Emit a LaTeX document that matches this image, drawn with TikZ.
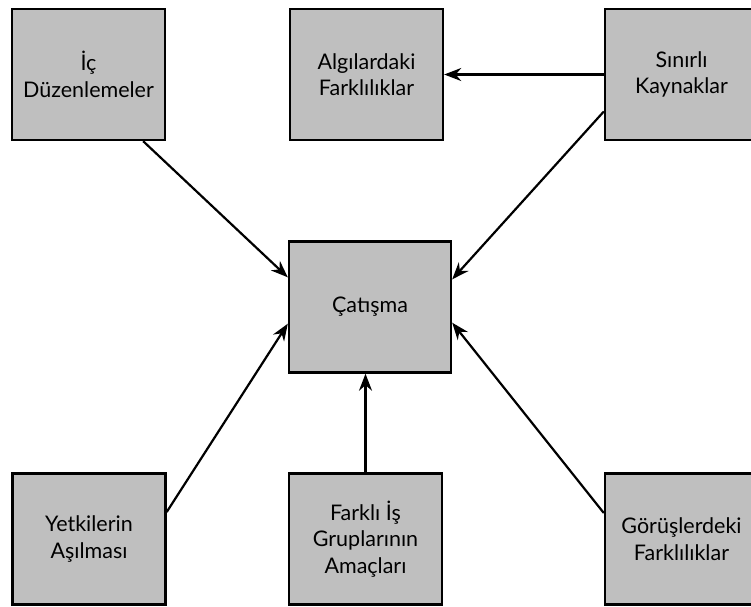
\documentclass[tikz,border=0pt]{standalone}
\usepackage{fontspec}
\setmainfont{Lato}
\usetikzlibrary{arrows.meta}
\definecolor{kutugri}{RGB}{191,191,191}
\begin{document}
\begin{tikzpicture}[x=1pt, y=-1pt,
  kutu/.style={draw, line width=2.4pt, fill=kutugri, minimum width=153pt, minimum height=131pt,
    inner sep=0pt, align=center, font=\fontsize{21.5}{26.5}\selectfont},
  ok/.style={line width=2.2pt, -{Stealth[length=17pt,width=13pt]}}]
  \useasboundingbox (0,0) rectangle (751,606);
  \clip (0,0) rectangle (751,606);
  % ust sira
  \node[kutu] (ic) at (88.5,74.5) {İç\\Düzenlemeler};
  \node[kutu] (algi) at (366.5,74.5) {Algılardaki\\Farklılıklar};
  \node[kutu] (sinirli) at (681.5,74.5) {Sınırlı\\Kaynaklar};
  % orta
  \node[kutu, minimum width=162pt] (catisma) at (370,307) {Çatışma};
  % alt sira
  \node[kutu] (yetki) at (89,539) {Yetkilerin\\Aşılması};
  \node[kutu] (farkli) at (365.5,539) {Farklı İş\\Gruplarının\\Amaçları};
  \node[kutu] (gorus) at (681.5,539) {Görüşlerdeki\\Farklılıklar};
  % oklar
  \draw[ok] (sinirli.west) -- (algi.east);
  \draw[ok] ([xshift=-23pt]ic.south east) -- ([yshift=-37pt]catisma.north west);
  \draw[ok] ([yshift=-37pt]sinirli.west) -- ([yshift=-39pt]catisma.north east);
  \draw[ok] ([yshift=27pt]yetki.east) -- ([yshift=50pt]catisma.south west);
  \draw[ok] (farkli.north) -- (farkli.north |- catisma.south);
  \draw[ok] ([yshift=26pt]gorus.west) -- ([yshift=51pt]catisma.south east);
\end{tikzpicture}
\end{document}
